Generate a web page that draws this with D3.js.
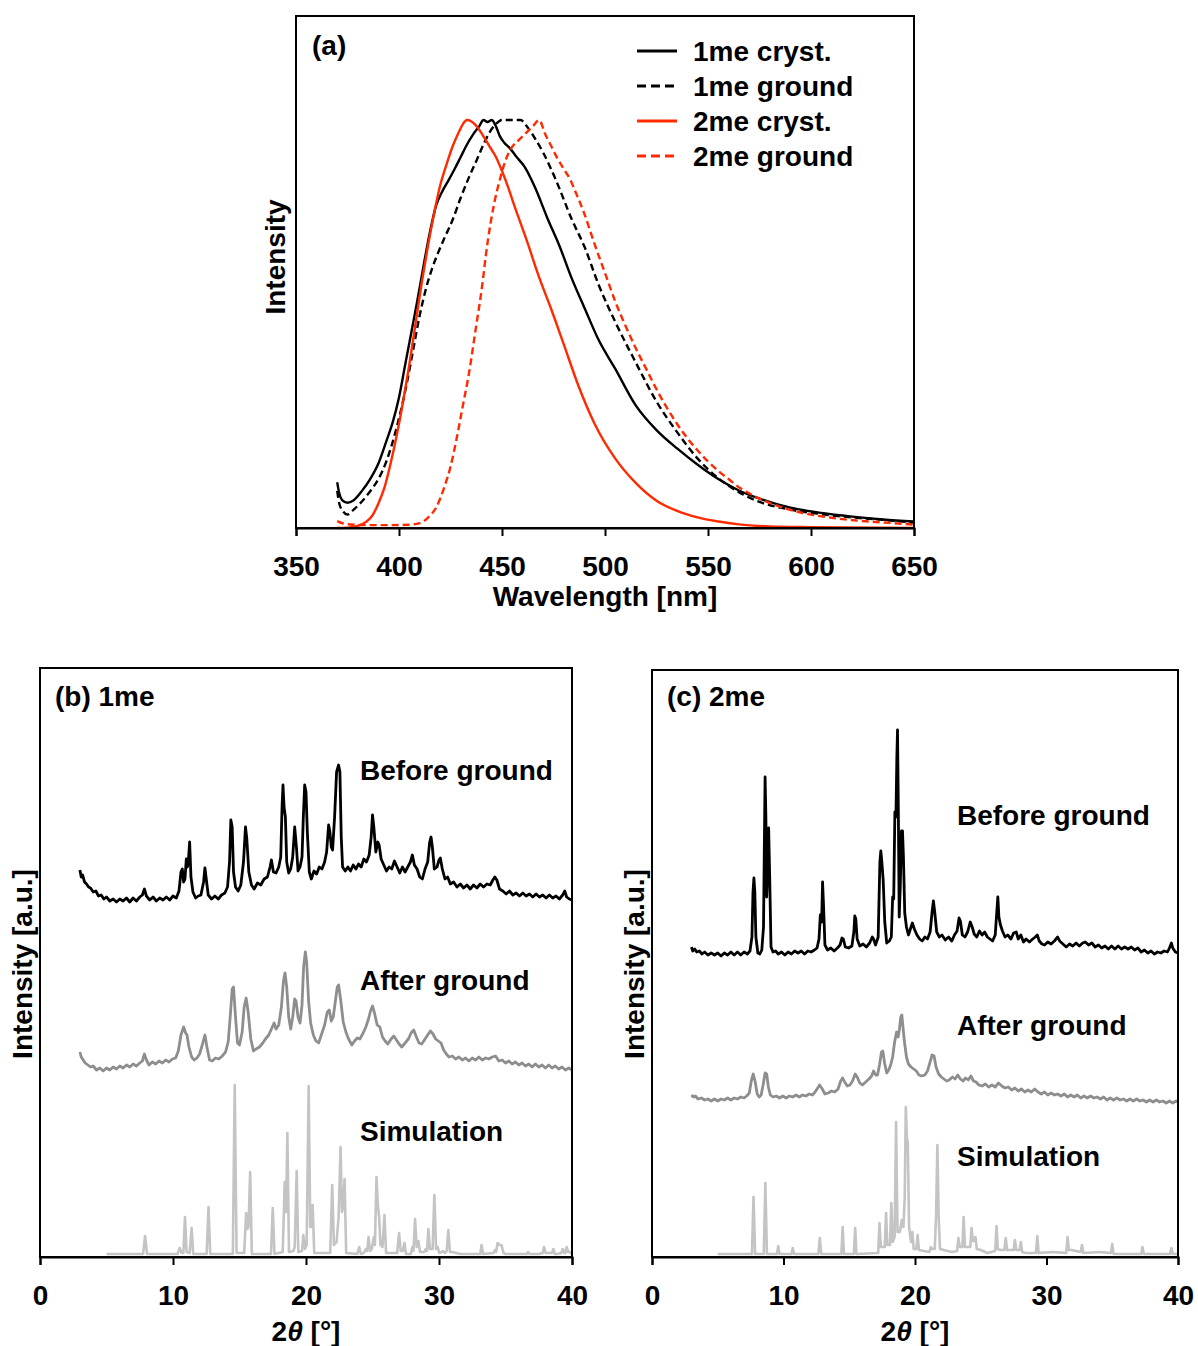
<!DOCTYPE html>
<html>
<head>
<meta charset="utf-8">
<script src="https://cdn.jsdelivr.net/npm/d3@7"></script>
<style>
  html, body { margin: 0; padding: 0; background: #fff; }
  svg text { font-family: "Liberation Sans", Arial, Helvetica, sans-serif; font-weight: bold; fill: #000; }
</style>
</head>
<body>
<svg id="fig" width="1198" height="1346"></svg>
<script>
// ---------- (a) emission spectra: [wavelength nm, normalised intensity] ----------
const wlTicks = [350, 400, 450, 500, 550, 600, 650];

const em1meCryst = [[370,0.112],[371,0.085],[372.5,0.068],[375,0.062],[378,0.068],[382,0.091],[386,0.12],[390,0.158],[394,0.215],[397,0.26],[400,0.32],[403,0.40],[406,0.48],[409,0.56],[412,0.645],[415,0.725],[418,0.79],[421,0.825],[424,0.852],[427,0.88],[430,0.91],[433,0.94],[436,0.965],[439,0.985],[441,1.0],[443,0.995],[445,1.0],[447,0.985],[449,0.96],[451,0.945],[454,0.93],[457,0.91],[461,0.885],[466,0.835],[472,0.76],[478,0.69],[484,0.61],[490,0.54],[497,0.46],[505,0.39],[515,0.30],[525,0.24],[535,0.195],[545,0.155],[555,0.12],[565,0.092],[575,0.072],[590,0.05],[605,0.037],[620,0.028],[635,0.021],[650,0.016]];

const em1meGround = [[370,0.091],[371,0.06],[373,0.04],[375,0.033],[378,0.045],[382,0.065],[386,0.09],[390,0.12],[394,0.165],[398,0.23],[401,0.29],[404,0.36],[407,0.44],[410,0.52],[413,0.585],[416,0.635],[419,0.675],[422,0.71],[426,0.755],[430,0.81],[434,0.86],[438,0.905],[441,0.94],[444,0.97],[447,0.99],[450,1.0],[455,1.0],[459,1.0],[462,0.985],[466,0.955],[470,0.92],[476,0.855],[484,0.755],[490,0.69],[497,0.595],[505,0.505],[515,0.405],[525,0.31],[535,0.235],[545,0.17],[555,0.122],[565,0.088],[575,0.064],[590,0.045],[605,0.034],[620,0.026],[635,0.02],[650,0.013]];

const em2meCryst = [[370,0.0],[375,0.001],[380,0.005],[384,0.015],[387,0.03],[390,0.06],[393,0.1],[396,0.16],[399,0.23],[402,0.31],[405,0.40],[408,0.50],[411,0.60],[414,0.69],[417,0.77],[420,0.84],[423,0.89],[426,0.935],[429,0.97],[431,0.99],[433,1.0],[435,0.997],[438,0.983],[441,0.96],[444,0.935],[447,0.91],[450,0.875],[453,0.835],[456,0.79],[462,0.705],[468,0.615],[474,0.535],[480,0.45],[487,0.35],[495,0.255],[505,0.17],[515,0.11],[525,0.067],[535,0.042],[545,0.026],[555,0.016],[565,0.009],[580,0.004],[600,0.002],[650,0.0]];

const em2meGround = [[370,0.017],[373,0.011],[378,0.008],[385,0.007],[395,0.007],[405,0.008],[410,0.012],[414,0.025],[418,0.05],[422,0.10],[425,0.15],[428,0.22],[431,0.30],[434,0.38],[437,0.48],[440,0.58],[443,0.70],[446,0.79],[449,0.855],[452,0.905],[455,0.935],[458,0.95],[461,0.965],[465,0.985],[468,1.0],[471,0.965],[474,0.935],[477,0.905],[480,0.88],[483,0.855],[486,0.82],[490,0.77],[495,0.695],[500,0.625],[505,0.555],[510,0.495],[515,0.44],[520,0.39],[525,0.34],[530,0.295],[535,0.255],[540,0.22],[545,0.19],[550,0.163],[555,0.14],[560,0.12],[565,0.1],[570,0.085],[575,0.072],[585,0.052],[595,0.038],[610,0.025],[625,0.017],[640,0.012],[650,0.008]];

const emSeriesNames = ["1me cryst.", "1me ground", "2me cryst.", "2me ground"];

// ---------- (b) 1me powder patterns: [2theta deg, intensity a.u.] ----------
const twoThetaTicks = [0, 10, 20, 30, 40];

const xrd1meBefore = [[3.0,387],[3.1,380],[3.2,382],[3.35,375],[3.5,373],[3.65,370],[3.8,369],[4.0,365],[4.2,366],[4.4,361],[4.6,362],[4.8,358],[5.0,360],[5.25,356],[5.5,358],[5.75,355],[6.0,358],[6.25,356],[6.5,359],[6.75,355],[7.0,359],[7.25,356],[7.5,360],[7.7,362],[7.85,368],[8.0,361],[8.25,357],[8.5,360],[8.75,356],[9.0,359],[9.25,357],[9.5,360],[9.75,357],[10.0,361],[10.25,359],[10.45,366],[10.6,385],[10.7,388],[10.8,375],[10.9,378],[11.0,398],[11.08,390],[11.15,395],[11.25,415],[11.35,380],[11.5,365],[11.7,359],[11.9,361],[12.1,362],[12.3,375],[12.4,389],[12.5,378],[12.65,362],[12.9,358],[13.15,361],[13.4,358],[13.65,362],[13.9,364],[14.1,370],[14.25,395],[14.35,437],[14.45,430],[14.55,385],[14.7,370],[14.9,366],[15.1,372],[15.3,395],[15.45,430],[15.55,418],[15.7,385],[15.9,372],[16.1,368],[16.35,374],[16.6,372],[16.85,378],[17.1,380],[17.3,390],[17.4,397],[17.55,385],[17.75,384],[17.95,390],[18.1,400],[18.2,450],[18.27,472],[18.35,450],[18.45,440],[18.55,395],[18.7,384],[18.85,388],[19.0,400],[19.15,430],[19.28,410],[19.4,386],[19.55,390],[19.7,400],[19.8,440],[19.9,472],[20.0,465],[20.1,425],[20.25,385],[20.4,378],[20.6,386],[20.8,383],[21.0,390],[21.2,388],[21.4,395],[21.55,405],[21.7,432],[21.8,425],[21.9,410],[22.0,407],[22.15,440],[22.3,485],[22.45,492],[22.55,485],[22.65,420],[22.75,390],[22.95,386],[23.15,390],[23.35,386],[23.55,392],[23.75,388],[23.95,393],[24.15,390],[24.35,398],[24.55,395],[24.75,402],[24.9,420],[25.0,442],[25.1,430],[25.25,405],[25.4,415],[25.5,412],[25.65,398],[25.85,392],[26.05,386],[26.25,390],[26.45,388],[26.65,396],[26.85,390],[27.05,384],[27.25,390],[27.45,385],[27.65,390],[27.85,395],[28.0,402],[28.15,392],[28.35,388],[28.55,380],[28.75,378],[28.95,388],[29.15,395],[29.3,415],[29.4,420],[29.5,410],[29.65,388],[29.85,390],[30.0,397],[30.1,399],[30.25,388],[30.45,378],[30.65,380],[30.85,373],[31.1,375],[31.35,370],[31.6,373],[31.85,369],[32.1,372],[32.35,368],[32.6,372],[32.85,369],[33.1,373],[33.35,370],[33.6,373],[33.85,372],[34.05,377],[34.2,380],[34.35,377],[34.55,368],[34.8,366],[35.05,363],[35.3,366],[35.55,362],[35.8,364],[36.05,361],[36.3,364],[36.55,361],[36.8,363],[37.05,360],[37.3,363],[37.55,360],[37.8,362],[38.05,359],[38.3,362],[38.55,359],[38.8,361],[39.05,358],[39.3,362],[39.45,366],[39.6,360],[39.8,358],[40.0,357]];

const xrd1meAfter = [[3.0,205],[3.1,200],[3.25,197],[3.4,194],[3.6,192],[3.8,190],[4.0,191],[4.25,187],[4.5,189],[4.75,186],[5.0,189],[5.25,187],[5.5,190],[5.75,188],[6.0,191],[6.25,189],[6.5,192],[6.75,190],[7.0,193],[7.25,191],[7.5,194],[7.7,196],[7.85,203],[8.0,197],[8.2,192],[8.45,195],[8.7,193],[8.95,196],[9.2,194],[9.45,197],[9.7,195],[9.95,198],[10.2,199],[10.4,206],[10.6,222],[10.8,230],[10.95,224],[11.05,222],[11.2,210],[11.4,200],[11.6,197],[11.8,199],[12.0,203],[12.2,212],[12.4,222],[12.55,210],[12.75,197],[12.95,196],[13.2,199],[13.45,198],[13.7,201],[13.95,205],[14.15,215],[14.3,240],[14.45,268],[14.55,270],[14.7,240],[14.85,214],[15.0,212],[15.2,225],[15.35,250],[15.5,259],[15.65,245],[15.85,218],[16.05,206],[16.25,208],[16.5,210],[16.75,214],[16.95,218],[17.2,222],[17.4,228],[17.6,234],[17.75,228],[17.95,232],[18.15,250],[18.3,275],[18.42,284],[18.55,270],[18.7,240],[18.85,228],[19.0,240],[19.15,258],[19.25,256],[19.4,240],[19.55,234],[19.7,252],[19.82,290],[19.95,305],[20.05,295],[20.2,255],[20.35,234],[20.55,222],[20.75,216],[20.95,214],[21.15,222],[21.4,232],[21.6,245],[21.75,247],[21.9,236],[22.05,240],[22.2,255],[22.35,270],[22.45,272],[22.6,258],[22.8,235],[23.0,225],[23.2,218],[23.45,212],[23.65,216],[23.85,219],[24.05,218],[24.3,224],[24.5,230],[24.7,238],[24.85,246],[25.0,251],[25.15,244],[25.35,232],[25.55,230],[25.75,220],[25.95,216],[26.15,213],[26.4,218],[26.6,221],[26.8,217],[27.0,213],[27.2,210],[27.45,214],[27.7,218],[27.9,224],[28.1,227],[28.3,220],[28.5,214],[28.7,213],[28.95,218],[29.15,222],[29.35,226],[29.55,223],[29.75,218],[29.95,216],[30.15,214],[30.35,207],[30.55,203],[30.75,200],[31.0,201],[31.25,198],[31.5,200],[31.75,197],[32.0,199],[32.25,196],[32.5,199],[32.75,197],[33.0,200],[33.25,197],[33.5,199],[33.75,198],[34.0,200],[34.25,201],[34.5,196],[34.75,197],[35.0,194],[35.25,196],[35.5,193],[35.75,195],[36.0,192],[36.25,194],[36.5,191],[36.75,193],[37.0,190],[37.25,193],[37.5,190],[37.75,192],[38.0,189],[38.25,192],[38.5,189],[38.75,191],[39.0,188],[39.25,190],[39.5,187],[39.75,189],[40.0,187]];

const xrd1meSim = [[5.0,3],[7.75,3],[7.9,21],[8.05,3],[10.35,3],[10.5,9],[10.65,4],[10.78,4],[10.9,40],[11.02,5],[11.25,4],[11.4,29],[11.52,3],[12.53,3],[12.67,50],[12.8,3],[14.5,3],[14.64,172],[14.78,4],[15.35,4],[15.5,44],[15.6,28],[15.68,30],[15.8,85],[15.93,3],[17.37,3],[17.5,49],[17.63,3],[18.25,5],[18.4,75],[18.5,45],[18.6,124],[18.72,5],[19.05,6],[19.15,10],[19.3,86],[19.42,5],[19.7,6],[19.8,22],[19.92,8],[20.05,12],[20.2,171],[20.32,30],[20.4,30],[20.5,52],[20.62,4],[21.82,4],[21.97,72],[22.1,12],[22.3,15],[22.45,40],[22.6,110],[22.7,45],[22.8,50],[22.9,78],[23.02,4],[23.85,3],[24.0,10],[24.12,3],[24.35,4],[24.5,8],[24.6,6],[24.7,20],[24.82,6],[24.95,8],[25.1,20],[25.18,12],[25.3,80],[25.4,52],[25.5,40],[25.6,12],[25.75,10],[25.9,42],[26.02,4],[26.85,4],[27.0,24],[27.12,6],[27.28,6],[27.4,14],[27.52,3],[27.88,3],[28.0,10],[28.08,6],[28.2,38],[28.32,10],[28.45,16],[28.57,5],[28.9,5],[29.0,8],[29.1,6],[29.2,28],[29.32,8],[29.52,8],[29.65,62],[29.78,8],[29.9,10],[30.02,4],[30.2,5],[30.3,6],[30.45,4],[30.58,6],[30.7,27],[30.82,5],[31.0,5],[31.6,3],[32.6,3],[33.1,3],[33.2,12],[33.32,3],[34.1,4],[34.2,7],[34.3,5],[34.4,14],[34.55,12],[34.7,12],[34.85,4],[35.0,3],[36.0,3],[36.6,3],[36.7,5],[36.8,3],[37.5,3],[37.8,4],[37.9,10],[38.02,4],[38.3,4],[38.5,4],[38.6,8],[38.72,3],[38.9,3],[39.2,4],[39.3,8],[39.42,4],[39.5,4],[39.6,10],[39.72,5],[39.85,5],[40.0,3]];

// ---------- (c) 2me powder patterns ----------
const xrd2meBefore = [[3.0,310],[3.1,306],[3.25,308],[3.4,305],[3.6,306],[3.8,303],[4.0,305],[4.25,302],[4.5,304],[4.75,302],[5.0,304],[5.25,301],[5.5,304],[5.75,302],[6.0,305],[6.25,302],[6.5,305],[6.75,302],[7.0,305],[7.25,303],[7.45,306],[7.6,320],[7.68,365],[7.75,379],[7.82,365],[7.9,320],[8.05,304],[8.2,303],[8.35,307],[8.48,330],[8.55,420],[8.6,480],[8.66,440],[8.72,360],[8.8,390],[8.87,429],[8.95,380],[9.05,310],[9.2,305],[9.4,306],[9.6,303],[9.85,305],[10.1,302],[10.35,305],[10.6,303],[10.85,306],[11.1,304],[11.35,306],[11.6,303],[11.85,306],[12.1,305],[12.35,307],[12.55,309],[12.7,318],[12.8,342],[12.9,335],[12.97,375],[13.05,350],[13.15,312],[13.35,307],[13.6,309],[13.85,306],[14.1,309],[14.3,312],[14.45,319],[14.55,318],[14.7,310],[14.95,309],[15.2,311],[15.35,325],[15.42,341],[15.5,338],[15.6,318],[15.8,311],[16.05,313],[16.3,310],[16.55,314],[16.75,320],[16.85,318],[17.0,312],[17.2,320],[17.33,395],[17.4,406],[17.48,395],[17.58,377],[17.7,335],[17.85,314],[18.05,316],[18.2,320],[18.3,360],[18.38,358],[18.47,445],[18.55,440],[18.62,500],[18.67,527],[18.73,450],[18.8,340],[18.88,370],[18.97,426],[19.05,426],[19.12,400],[19.22,344],[19.35,330],[19.5,322],[19.65,328],[19.8,334],[19.95,328],[20.15,322],[20.35,318],[20.55,316],[20.75,320],[20.95,318],[21.15,325],[21.3,345],[21.4,356],[21.5,345],[21.65,325],[21.85,320],[22.05,322],[22.3,317],[22.55,320],[22.8,316],[23.0,322],[23.2,326],[23.35,339],[23.45,336],[23.6,322],[23.8,320],[24.0,325],[24.2,335],[24.35,330],[24.5,323],[24.7,320],[24.9,326],[25.1,322],[25.3,325],[25.5,320],[25.7,318],[25.9,316],[26.1,322],[26.22,345],[26.3,360],[26.38,340],[26.5,332],[26.65,326],[26.85,320],[27.05,322],[27.3,318],[27.5,324],[27.7,325],[27.85,318],[28.05,322],[28.25,315],[28.45,318],[28.7,315],[28.95,318],[29.15,320],[29.3,322],[29.45,316],[29.65,313],[29.85,312],[30.1,315],[30.35,313],[30.6,316],[30.85,320],[31.0,316],[31.25,313],[31.5,310],[31.75,313],[32.0,311],[32.25,314],[32.5,311],[32.75,314],[32.95,315],[33.2,312],[33.45,314],[33.7,310],[33.95,312],[34.2,309],[34.45,311],[34.7,308],[34.95,311],[35.2,308],[35.45,311],[35.7,308],[35.95,310],[36.2,308],[36.45,310],[36.7,307],[36.95,309],[37.2,305],[37.45,307],[37.7,304],[37.95,306],[38.2,303],[38.45,305],[38.7,304],[38.95,306],[39.2,305],[39.35,309],[39.5,314],[39.6,309],[39.8,305],[40.0,304]];

const xrd2meAfter = [[3.0,162],[3.15,160],[3.3,161],[3.5,158],[3.75,159],[4.0,157],[4.25,158],[4.5,156],[4.75,158],[5.0,156],[5.25,158],[5.5,157],[5.75,159],[6.0,157],[6.25,159],[6.5,158],[6.75,160],[7.0,159],[7.2,161],[7.4,164],[7.55,176],[7.7,183],[7.85,175],[8.0,163],[8.15,160],[8.3,162],[8.45,172],[8.6,184],[8.72,183],[8.85,170],[9.0,162],[9.2,160],[9.45,161],[9.7,159],[9.95,161],[10.2,159],[10.45,161],[10.7,160],[10.95,162],[11.2,160],[11.45,162],[11.7,161],[11.95,163],[12.2,162],[12.4,165],[12.55,168],[12.75,172],[12.95,168],[13.15,163],[13.4,164],[13.65,166],[13.9,165],[14.15,168],[14.35,176],[14.5,179],[14.65,175],[14.85,171],[15.05,172],[15.25,176],[15.45,183],[15.6,180],[15.8,174],[16.0,172],[16.25,175],[16.5,178],[16.7,181],[16.85,186],[17.0,182],[17.15,182],[17.3,192],[17.45,205],[17.55,206],[17.7,193],[17.85,184],[18.0,187],[18.15,192],[18.3,200],[18.45,215],[18.6,225],[18.72,220],[18.82,228],[18.92,240],[19.0,242],[19.1,228],[19.2,215],[19.35,200],[19.5,193],[19.7,190],[19.9,188],[20.1,186],[20.3,182],[20.5,181],[20.75,182],[20.95,186],[21.15,195],[21.3,202],[21.45,201],[21.6,190],[21.8,183],[22.0,180],[22.2,178],[22.4,176],[22.6,177],[22.85,180],[23.05,178],[23.25,182],[23.45,178],[23.65,176],[23.85,179],[24.05,177],[24.25,181],[24.45,176],[24.65,175],[24.85,172],[25.1,171],[25.35,173],[25.6,170],[25.85,172],[26.1,170],[26.35,174],[26.6,171],[26.85,169],[27.1,170],[27.35,167],[27.6,169],[27.85,166],[28.1,168],[28.35,165],[28.6,167],[28.85,165],[29.1,168],[29.35,165],[29.6,163],[29.85,165],[30.1,162],[30.35,164],[30.6,162],[30.85,163],[31.1,161],[31.35,163],[31.6,160],[31.85,162],[32.1,160],[32.35,162],[32.6,159],[32.85,161],[33.1,159],[33.35,161],[33.6,159],[33.85,160],[34.1,158],[34.35,160],[34.6,157],[34.85,159],[35.1,157],[35.35,159],[35.6,157],[35.85,158],[36.1,156],[36.35,158],[36.6,156],[36.85,158],[37.1,156],[37.35,157],[37.6,155],[37.85,157],[38.1,155],[38.35,157],[38.6,155],[38.85,156],[39.1,154],[39.35,156],[39.6,154],[39.85,156],[40.0,155]];

const xrd2meSim = [[5.0,3],[7.6,3],[7.72,60],[7.84,3],[8.5,3],[8.62,74],[8.74,3],[9.5,3],[9.6,11],[9.7,3],[10.6,3],[10.7,9],[10.8,3],[12.65,3],[12.76,19],[12.87,3],[14.4,3],[14.5,30],[14.6,3],[15.35,3],[15.45,29],[15.55,3],[17.2,4],[17.3,34],[17.4,10],[17.7,10],[17.8,44],[17.9,12],[18.1,12],[18.2,54],[18.3,15],[18.45,20],[18.56,135],[18.67,25],[18.85,25],[19.0,37],[19.12,30],[19.22,60],[19.3,150],[19.38,120],[19.45,114],[19.55,30],[19.7,15],[19.8,25],[19.9,8],[20.1,8],[20.2,22],[20.3,7],[21.1,5],[21.2,10],[21.3,8],[21.5,8],[21.6,40],[21.7,112],[21.8,40],[21.9,8],[22.8,5],[23.2,6],[23.3,19],[23.4,10],[23.6,10],[23.7,40],[23.8,10],[24.2,10],[24.3,29],[24.4,16],[24.5,16],[24.6,20],[24.7,8],[25.0,7],[25.5,4],[26.1,6],[26.2,31],[26.3,8],[26.5,7],[26.8,7],[26.9,19],[27.0,7],[27.2,7],[27.5,7],[27.6,17],[27.7,7],[27.95,7],[28.05,15],[28.15,5],[28.4,4],[29.2,4],[29.3,21],[29.4,4],[30.5,5],[31.5,4],[31.6,20],[31.7,7],[31.9,7],[32.6,5],[32.7,12],[32.8,4],[34.0,5],[34.9,4],[35.0,13],[35.1,3],[37.2,3],[37.3,10],[37.4,3],[39.4,3],[39.5,9],[39.6,3],[40.0,3]];

const traceLabels = ["Before ground", "After ground", "Simulation"];

// ---------- drawing ----------
const RED = "#ff2a00";
const BLACK = "#000000";
const GRAY_AFTER = "#8e8e8e";
const GRAY_SIM = "#c4c4c4";

const svg = d3.select("#fig");

function frame(g, x, y) {
  const [x0, x1] = x.range();
  const [y0, y1] = y.range();
  g.append("rect")
    .attr("x", x0).attr("y", y1)
    .attr("width", x1 - x0).attr("height", y0 - y1)
    .attr("fill", "none").attr("stroke", "#000").attr("stroke-width", 2);
}

function bottomAxis(g, x, y, ticks) {
  const ax = g.append("g")
    .attr("transform", `translate(0,${y.range()[0]})`)
    .call(d3.axisBottom(x).tickValues(ticks).tickSize(8).tickPadding(20).tickFormat(d3.format("d")));
  ax.select(".domain").attr("stroke", "#000").attr("stroke-width", 2);
  ax.selectAll(".tick line").attr("stroke", "#000").attr("stroke-width", 2);
  ax.selectAll(".tick text")
    .attr("font-size", 28)
    .style("font-family", '"Liberation Sans", Arial, sans-serif')
    .style("font-weight", "bold")
    .attr("fill", "#000");
}

function yTitle(g, cx, cy, text) {
  g.append("text")
    .attr("transform", `translate(${cx},${cy}) rotate(-90)`)
    .attr("text-anchor", "middle")
    .attr("dominant-baseline", "central")
    .attr("font-size", 28)
    .text(text);
}

// ----- panel (a) -----
{
  const g = svg.append("g");
  const x = d3.scaleLinear().domain([350, 650]).range([296, 914]);
  const y = d3.scaleLinear().domain([0, 1.255]).range([528, 16]);
  const line = d3.line().x(d => x(d[0])).y(d => y(d[1])).curve(d3.curveMonotoneX);

  const series = [
    { data: em1meCryst, color: BLACK, dash: null },
    { data: em1meGround, color: BLACK, dash: "7,4" },
    { data: em2meCryst, color: RED, dash: null },
    { data: em2meGround, color: RED, dash: "7,4" }
  ];
  series.forEach(s => {
    g.append("path")
      .attr("d", line(s.data))
      .attr("fill", "none")
      .attr("stroke", s.color)
      .attr("stroke-width", 2.4)
      .attr("stroke-dasharray", s.dash);
  });

  frame(g, x, y);
  bottomAxis(g, x, y, wlTicks);

  g.append("text").attr("x", 605).attr("y", 606)
    .attr("text-anchor", "middle").attr("font-size", 28).text("Wavelength [nm]");
  yTitle(g, 275, 257, "Intensity");

  g.append("text").attr("x", 312).attr("y", 55).attr("font-size", 28).text("(a)");

  // legend
  const leg = g.append("g");
  series.forEach((s, i) => {
    const ly = 51 + i * 35;
    leg.append("line")
      .attr("x1", 637).attr("x2", 677).attr("y1", ly).attr("y2", ly)
      .attr("stroke", s.color).attr("stroke-width", 3)
      .attr("stroke-dasharray", s.dash ? "9,5" : null);
    leg.append("text").attr("x", 693).attr("y", ly + 10)
      .attr("font-size", 28).text(emSeriesNames[i]);
  });
}

// ----- panels (b) and (c) -----
function xrdPanel(opts) {
  const g = svg.append("g");
  const x = d3.scaleLinear().domain([0, 40]).range([opts.left, opts.right]);
  const y = d3.scaleLinear().domain([0, opts.ymax]).range([1257, opts.top]);
  const line = d3.line().x(d => x(d[0])).y(d => y(d[1]));

  const traces = [
    { data: opts.sim, color: GRAY_SIM, w: 2.6 },
    { data: opts.after, color: GRAY_AFTER, w: 2.8 },
    { data: opts.before, color: BLACK, w: 2.8 }
  ];
  traces.forEach(t => {
    g.append("path")
      .attr("d", line(t.data))
      .attr("fill", "none")
      .attr("stroke", t.color)
      .attr("stroke-width", t.w)
      .attr("stroke-linejoin", "round");
  });

  frame(g, x, y);
  bottomAxis(g, x, y, twoThetaTicks);

  const mid = (opts.left + opts.right) / 2;
  const t = g.append("text").attr("x", mid).attr("y", 1341)
    .attr("text-anchor", "middle").attr("font-size", 28);
  t.append("tspan").text("2");
  t.append("tspan").attr("font-style", "italic").text("θ");
  t.append("tspan").text(" [°]");

  yTitle(g, opts.left - 18, 964, "Intensity [a.u.]");

  g.append("text").attr("x", opts.left + 15).attr("y", 706)
    .attr("font-size", 28).text(opts.title);

  opts.labelY.forEach((ly, i) => {
    g.append("text").attr("x", opts.labelX).attr("y", ly)
      .attr("font-size", 28).text(traceLabels[i]);
  });
}

xrdPanel({
  left: 40, right: 572, top: 668, ymax: 589,
  before: xrd1meBefore, after: xrd1meAfter, sim: xrd1meSim,
  title: "(b) 1me", labelX: 360, labelY: [780, 990, 1141]
});

xrdPanel({
  left: 652, right: 1178, top: 670, ymax: 587,
  before: xrd2meBefore, after: xrd2meAfter, sim: xrd2meSim,
  title: "(c) 2me", labelX: 957, labelY: [825, 1035, 1166]
});
</script>
</body>
</html>
